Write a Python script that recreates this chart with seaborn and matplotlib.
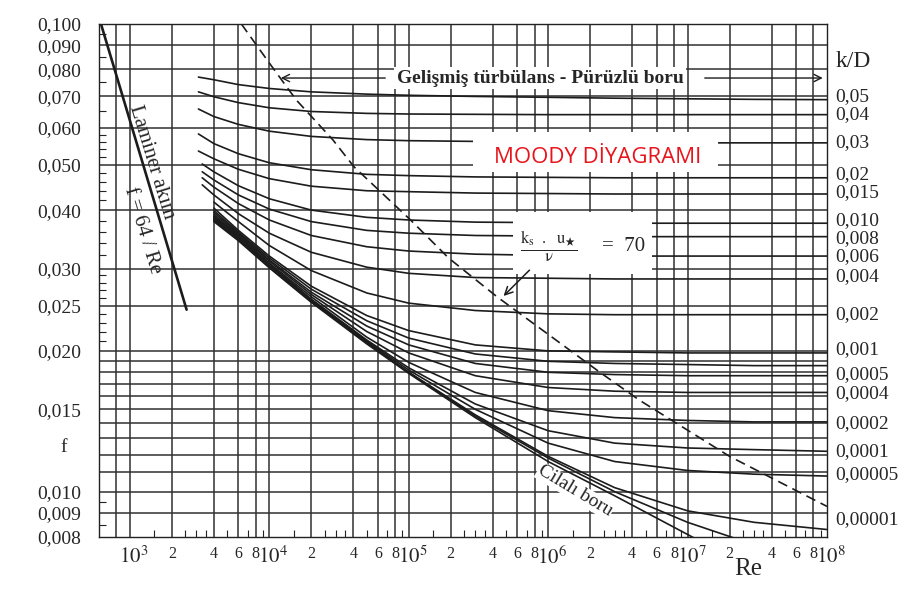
import numpy as np
import pandas as pd
import matplotlib
matplotlib.use("Agg")
import matplotlib.pyplot as plt
import matplotlib.transforms as mtransforms
from matplotlib.patches import Rectangle
from matplotlib.ticker import FixedLocator, NullFormatter
import seaborn as sns

# ------------------------------------------------------------------ data
RE_GRID = [4e3, 6e3, 1e4, 2e4, 5e4, 1e5, 3e5, 1e6, 3e6, 1e7, 3e7, 1e8]
NA = np.nan

F_0_05 = [0.0760, 0.0742, 0.0728, 0.0716, 0.0708, 0.0704, 0.0700, 0.0697, 0.0694, 0.0692, 0.0690, 0.0689]
F_0_04 = [0.0699, 0.0679, 0.0662, 0.0650, 0.0644, 0.0642, 0.0641, 0.0640, 0.0640, 0.0640, 0.0640, 0.0640]
F_0_03 = [0.0634, 0.0610, 0.0590, 0.0575, 0.0566, 0.0563, 0.0561, 0.0559, 0.0558, 0.0557, 0.0557, 0.0557]
F_0_02 = [0.0555, 0.0528, 0.0505, 0.0488, 0.0477, 0.0474, 0.0471, 0.0470, 0.0469, 0.0469, 0.0469, 0.0469]
F_0_015 = [0.0515, 0.0489, 0.0467, 0.0450, 0.0440, 0.0438, 0.0435, 0.0434, 0.0433, 0.0433, 0.0433, 0.0433]
F_0_010 = [0.0483, 0.0451, 0.0423, 0.0400, 0.0386, 0.0381, 0.0377, 0.0376, 0.0375, 0.0375, 0.0375, 0.0375]
F_0_008 = [0.0464, 0.0431, 0.0402, 0.0378, 0.0362, 0.0357, 0.0353, 0.0352, 0.0351, 0.0351, 0.0351, 0.0351]
F_0_006 = [0.0448, 0.0413, 0.0381, 0.0353, 0.0334, 0.0327, 0.0322, 0.0320, 0.0319, 0.0319, 0.0319, 0.0319]
F_0_004 = [0.0431, 0.0393, 0.0357, 0.0325, 0.0302, 0.0293, 0.0287, 0.0286, 0.0285, 0.0285, 0.0285, 0.0285]
F_0_002 = [0.0416, 0.0378, 0.0336, 0.0297, 0.0266, 0.0253, 0.0244, 0.0240, 0.0239, 0.0239, 0.0239, 0.0239]
F_0_001 = [0.0404, 0.0362, 0.0319, 0.0275, 0.0238, 0.0221, 0.0206, 0.0200, 0.0199, 0.0198, 0.0198, 0.0198]
F_0_0008 = [0.0399, 0.0359, 0.0316, 0.0271, 0.0232, 0.0213, 0.0197, 0.0190, 0.0188, 0.0187, 0.0186, 0.0186]
F_0_0006 = [0.0395, 0.0357, 0.0313, 0.0267, 0.0226, 0.0206, 0.0188, 0.0180, 0.0178, 0.0177, 0.0177, 0.0177]
F_0_0004 = [0.0391, 0.0355, 0.0311, 0.0264, 0.0220, 0.0198, 0.0177, 0.0167, 0.0164, 0.0163, 0.0163, 0.0163]
F_0_0002 = [0.0388, 0.0353, 0.0308, 0.0261, 0.0214, 0.0189, 0.0163, 0.0149, 0.0144, 0.0142, 0.0141, 0.0141]
F_0_0001 = [0.0386, 0.0351, 0.0307, 0.0258, 0.0211, 0.0184, 0.0154, 0.0135, 0.0127, 0.0124, 0.0123, 0.0122]
F_0_00005 = [0.0384, 0.0349, 0.0305, 0.0257, 0.0210, 0.0182, 0.0150, 0.0127, 0.0116, 0.0111, 0.0109, 0.0108]
F_0_00001 = [0.0382, 0.0347, 0.0303, 0.0256, 0.0209, 0.0180, 0.0146, 0.0119, 0.0102, 0.0091, 0.0086, 0.0083]
F_0_000005 = [0.0380, 0.0346, 0.0302, 0.0255, 0.0208, 0.0180, 0.0145, 0.0118, 0.0100, 0.0086, 0.0077, NA]
F_SMOOTH = [0.0378, 0.0344, 0.0301, 0.0254, 0.0207, 0.0179, 0.0144, 0.0116, 0.0098, 0.0081, 0.0068, NA]

CURVE_NAMES = ["0.05", "0.04", "0.03", "0.02", "0.015", "0.010", "0.008", "0.006", "0.004",
               "0.002", "0.001", "0.0008", "0.0006", "0.0004", "0.0002", "0.0001",
               "0.00005", "0.00001", "0.000005", "smooth"]
CURVE_F = [F_0_05, F_0_04, F_0_03, F_0_02, F_0_015, F_0_010, F_0_008, F_0_006, F_0_004,
           F_0_002, F_0_001, F_0_0008, F_0_0006, F_0_0004, F_0_0002, F_0_0001,
           F_0_00005, F_0_00001, F_0_000005, F_SMOOTH]
START_RE = [3.1e3, 3.1e3, 3.1e3, 3.1e3, 3.1e3, 3.3e3, 3.3e3, 3.3e3, 3.3e3] + [NA] * 11
START_F = [0.0770, 0.0716, 0.0658, 0.0582, 0.0535, 0.0502, 0.0483, 0.0469, 0.0453] + [NA] * 11

# laminar flow line f = 64/Re (read end points)
LAM_RE = [620, 2550]
LAM_F = [0.1000, 0.0245]

# ks*u*/nu = 70 boundary (dashed)
DASH_RE = [6.3e3, 1.0e4, 1.56e4, 2.86e4, 4.05e4, 1.03e5, 1.93e5, 4.3e5, 2.35e6, 4.5e6, 2.0e7, 1.0e8]
DASH_F = [0.100, 0.0825, 0.0688, 0.0565, 0.0495, 0.0381, 0.0316, 0.0261, 0.0180, 0.0157, 0.0119, 0.0093]

# grid, ticks and labels
V_GRID = [8e2, 1e3, 2e3, 4e3, 6e3, 8e3, 1e4, 2e4, 4e4, 6e4, 8e4, 1e5, 2e5, 4e5, 6e5, 8e5,
          1e6, 2e6, 4e6, 6e6, 8e6, 1e7, 2e7, 4e7, 6e7, 8e7]
H_GRID = [0.1, 0.09, 0.08, 0.07, 0.06, 0.05, 0.04, 0.03, 0.025, 0.02, 0.019, 0.018, 0.017,
          0.016, 0.015, 0.014, 0.013, 0.012, 0.011, 0.010, 0.009]
Y_TICKS = [0.1, 0.09, 0.08, 0.07, 0.06, 0.05, 0.04, 0.03, 0.025, 0.02, 0.015, 0.01, 0.009, 0.008]
Y_LABELS = ["0,100", "0,090", "0,080", "0,070", "0,060", "0,050", "0,040", "0,030", "0,025",
            "0,020", "0,015", "0,010", "0,009", "0,008"]
Y_MINOR = [0.095, 0.085, 0.075, 0.065, 0.058, 0.056, 0.054, 0.052, 0.048, 0.046, 0.044, 0.042,
           0.038, 0.036, 0.034, 0.032, 0.029, 0.028, 0.027, 0.026, 0.024, 0.023, 0.022, 0.021,
           0.0095, 0.0085]
X_TICKS = [1e3, 2e3, 4e3, 6e3, 8e3, 1e4, 2e4, 4e4, 6e4, 8e4, 1e5, 2e5, 4e5, 6e5, 8e5,
           1e6, 2e6, 4e6, 6e6, 8e6, 1e7, 2e7, 4e7, 6e7, 8e7, 1e8]
X_LABELS = ["$10^3$", "2", "4", "6", "8", "$10^4$", "2", "4", "6", "8", "$10^5$", "2", "4", "6", "8",
            "$10^6$", "2", "4", "6", "8", "$10^7$", "2", "4", "6", "8", "$10^8$"]
X_MINOR_MANT = [1.5, 2.5, 3, 3.5, 5, 7, 9]
X_MINOR_DEC = [1e3, 1e4, 1e5, 1e6, 1e7]

KD_LABELS = ["0,05", "0,04", "0,03", "0,02", "0,015", "0,010", "0,008", "0,006", "0,004",
             "0,002", "0,001", "0,0005", "0,0004", "0,0002", "0,0001", "0,00005", "0,00001"]
KD_LABEL_F = [0.0698, 0.0639, 0.0559, 0.0476, 0.0435, 0.0380, 0.0347, 0.0318, 0.0288,
              0.0239, 0.0201, 0.0178, 0.0162, 0.0140, 0.0122, 0.0109, 0.0087]

# ------------------------------------------------------------------ style
sns.set_style("white")
plt.rcParams["font.family"] = ["Liberation Serif", "DejaVu Serif"]
plt.rcParams["mathtext.fontset"] = "stix"

fig = plt.figure(figsize=(9.09, 5.89), dpi=100)
ax = fig.add_axes([99 / 909, 1 - 537 / 589, 728 / 909, 513 / 589])
ax.set_xscale("log")
ax.set_yscale("log")

LINE_C = "#1c1c1c"
GRID_C = "#303030"

# grid lines
for v in V_GRID:
    ax.axvline(v, color=GRID_C, lw=1.1, zorder=1)
for h in H_GRID:
    ax.axhline(h, color=GRID_C, lw=1.1, zorder=1)

# curves
rows = []
for name, sre, sf, fl in zip(CURVE_NAMES, START_RE, START_F, CURVE_F):
    if not np.isnan(sre):
        rows.append((name, sre, sf))
    for re_, f_ in zip(RE_GRID, fl):
        if not np.isnan(f_):
            rows.append((name, re_, f_))
df = pd.DataFrame(rows, columns=["kD", "Re", "f"])
sns.lineplot(data=df, x="Re", y="f", units="kD", estimator=None, sort=False,
             color=LINE_C, lw=1.2, ax=ax, zorder=2)

sns.lineplot(x=LAM_RE, y=LAM_F, color=LINE_C, lw=1.9, ax=ax, zorder=2)
sns.lineplot(x=DASH_RE, y=DASH_F, color=LINE_C, lw=1.2, linestyle=(0, (6, 3.5)), ax=ax, zorder=2)

ax.set_xlim(600, 1e8)
ax.set_ylim(0.008, 0.1)
ax.set_xlabel("")
ax.set_ylabel("")

# ticks
ax.set_yticks(Y_TICKS)
ax.set_yticklabels(Y_LABELS, fontsize=14)
ax.yaxis.set_minor_locator(FixedLocator(Y_MINOR))
ax.yaxis.set_minor_formatter(NullFormatter())
ax.set_xticks([])
x_minor = [m * d for d in X_MINOR_DEC for m in X_MINOR_MANT]
ax.xaxis.set_minor_locator(FixedLocator(x_minor))
ax.xaxis.set_minor_formatter(NullFormatter())
ax.tick_params(axis="y", which="major", length=0, pad=13)
ax.tick_params(which="minor", direction="in", length=5, width=0.8, color="#222222",
               left=True, right=False, bottom=True, top=False)

for s in ax.spines.values():
    s.set_color("#222222")
    s.set_linewidth(1.0)

xtrans = mtransforms.blended_transform_factory(ax.transData, ax.transAxes)
for v, s in zip(X_TICKS, X_LABELS):
    if s.startswith("$"):
        tr = mtransforms.offset_copy(xtrans, fig=fig, x=4, y=0, units="dots")
        ax.text(v, -0.018, s, transform=tr, ha="center", va="top", fontsize=15)
    else:
        ax.text(v, -0.018, s, transform=xtrans, ha="center", va="top", fontsize=11.5)

rtrans = mtransforms.blended_transform_factory(ax.transAxes, ax.transData)
for s, fv in zip(KD_LABELS, KD_LABEL_F):
    ax.text(1.012, fv, s, transform=rtrans, ha="left", va="center", fontsize=14)

# axis words
ax.text(1.036, 0.926, "k/D", transform=ax.transAxes, ha="center", va="center", fontsize=17)
ax.text(0.8915, -0.062, "Re", transform=ax.transAxes, ha="center", va="center", fontsize=18)
ax.text(-0.048, 0.1754, "f", transform=ax.transAxes, ha="center", va="center", fontsize=14)

# annotations
ax.text(0.6058, 0.8947, "Gelişmiş türbülans - Pürüzlü boru", transform=ax.transAxes,
        ha="center", va="center", fontsize=14, fontweight="bold", zorder=4,
        bbox=dict(facecolor="white", edgecolor="none", pad=1.5))
ax.annotate("", xy=(0.2459, 0.8947), xytext=(0.397, 0.8947), xycoords="axes fraction",
            arrowprops=dict(arrowstyle="->", color=LINE_C, lw=1.0, mutation_scale=13), zorder=4)
ax.annotate("", xy=(0.998, 0.8947), xytext=(0.8283, 0.8947), xycoords="axes fraction",
            arrowprops=dict(arrowstyle="->", color=LINE_C, lw=1.0, mutation_scale=13), zorder=4)

ax.add_patch(Rectangle((0.5137, 0.7115), 0.3365, 0.078, transform=ax.transAxes,
                       facecolor="white", edgecolor="none", zorder=3))
ax.text(0.6854, 0.7407, "MOODY DİYAGRAMI", transform=ax.transAxes, ha="center", va="center",
        fontsize=16, color="#e8141c", family=["Open Sans", "DejaVu Sans"], zorder=4)

ax.add_patch(Rectangle((0.5687, 0.5127), 0.1909, 0.1209, transform=ax.transAxes,
                       facecolor="white", edgecolor="none", zorder=3))
ax.text(0.618, 0.565, r"$\frac{\mathrm{k}_{\mathrm{s}}\ \ .\ \ \mathrm{u}_{\bigstar}}{\mathrm{ν}}$",
        transform=ax.transAxes, ha="center", va="center", fontsize=17, zorder=4)
ax.text(0.720, 0.567, "=  70", transform=ax.transAxes, ha="center", va="center",
        fontsize=15, zorder=4)
ax.annotate("", xy=(0.553, 0.466), xytext=(0.594, 0.524), xycoords="axes fraction",
            arrowprops=dict(arrowstyle="->", color=LINE_C, lw=1.1, mutation_scale=14), zorder=4)

ax.text(0.0728, 0.731, "Laminer akım", transform=ax.transAxes, ha="center", va="center",
        rotation=-73, rotation_mode="anchor", fontsize=15, zorder=4)
ax.text(0.0591, 0.5965, "f = 64 / Re", transform=ax.transAxes, ha="center", va="center",
        rotation=-73, rotation_mode="anchor", fontsize=15, zorder=4)
ax.text(0.6538, 0.0897, "Cilalı boru", transform=ax.transAxes, ha="center", va="center",
        rotation=-31, rotation_mode="anchor", fontsize=14, zorder=1.5,
        bbox=dict(facecolor="white", edgecolor="none", pad=0.5))

fig.savefig("out.png", dpi=100, facecolor="white")
